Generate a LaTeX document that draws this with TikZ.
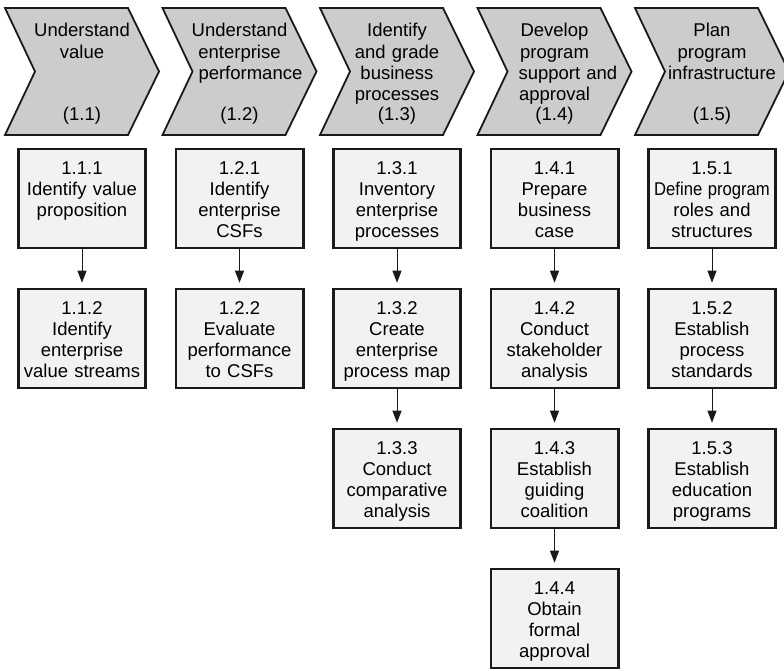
\documentclass[tikz,border=0pt]{standalone}
\usepackage{fontspec}
\setmainfont{Liberation Sans}
\usetikzlibrary{arrows.meta}
\definecolor{chevfill}{HTML}{CCCCCC}
\definecolor{taskfill}{HTML}{F2F2F2}
\definecolor{edge}{HTML}{1A1A1A}
\newcommand\topstrut{\rule{0pt}{14pt}}
% phase chevron: name, left x, title lines, number
\newcommand\phasechev[4]{%
  \draw[phase] (#2,8) -- ++(123,0) -- ++(31,63.5) -- ++(-31,63.5)
    -- ++(-123,0) -- ++(30,-63.5) -- cycle;
  \node[phasetext] (#1) at (#2+77,22.7) {\topstrut#3};
  \node[phasenum] (#1-n) at (#2+77,120.7) {(#4)};
}
% task box: name, centre x, top y, text lines
\newcommand\taskbox[4]{%
  \node[taskbox] (#1) at (#2,#3+49.5) {};
  \node[tasktext] (#1-t) at (#2,#3+11.2) {\topstrut#4};
}
\begin{document}
\begin{tikzpicture}[x=1pt,y=-1pt,
  phase/.style={draw=edge, line width=1.8pt, fill=chevfill, line join=miter},
  phasetext/.style={anchor=north, inner sep=0pt, text width=124pt, align=center,
    font=\fontsize{18.5}{21.2}\selectfont},
  phasenum/.style={anchor=base, inner sep=0pt, font=\fontsize{18.5}{21.2}\selectfont},
  taskbox/.style={draw=edge, line width=2.6pt, fill=taskfill,
    minimum width=127.4pt, minimum height=99pt, inner sep=0pt},
  tasktext/.style={anchor=north, inner sep=0pt, text width=128pt, align=center,
    font=\fontsize{18.5}{21}\selectfont},
  flow/.style={draw=edge, line width=1pt, shorten >=5pt,
    -{Triangle[length=12pt,width=9pt]}}
]
\useasboundingbox (0,0) rectangle (784,670);

% phases
\phasechev{p1}{5}{Understand\\value}{1.1}
\phasechev{p2}{162.5}{Understand\\enterprise\\\makebox[82pt][l]{performance}}{1.2}
\phasechev{p3}{320}{Identify\\and grade\\business\\processes}{1.3}
\phasechev{p4}{477.5}{Develop\\program\\\makebox[72pt][l]{support and}\\approval}{1.4}
\phasechev{p5}{635}{Plan\\program\\\makebox[88pt][l]{infrastructure}}{1.5}

% tasks
\taskbox{t111}{82}{149}{1.1.1\\Identify value\\proposition}
\taskbox{t112}{82}{289}{1.1.2\\Identify\\enterprise\\value streams}

\taskbox{t121}{239.5}{149}{1.2.1\\Identify\\enterprise\\CSFs}
\taskbox{t122}{239.5}{289}{1.2.2\\Evaluate\\performance\\to CSFs}

\taskbox{t131}{397}{149}{1.3.1\\Inventory\\enterprise\\processes}
\taskbox{t132}{397}{289}{1.3.2\\Create\\enterprise\\process map}
\taskbox{t133}{397}{429}{1.3.3\\Conduct\\comparative\\analysis}

\taskbox{t141}{554.5}{149}{1.4.1\\Prepare\\business\\case}
\taskbox{t142}{554.5}{289}{1.4.2\\Conduct\\stakeholder\\analysis}
\taskbox{t143}{554.5}{429}{1.4.3\\Establish\\guiding\\coalition}
\taskbox{t144}{554.5}{569}{1.4.4\\Obtain\\formal\\approval}

\taskbox{t151}{712}{149}{1.5.1\\\scalebox{0.9}[1]{Define program}\\roles and\\structures}
\taskbox{t152}{712}{289}{1.5.2\\Establish\\process\\standards}
\taskbox{t153}{712}{429}{1.5.3\\Establish\\education\\programs}

% task order
\draw[flow] (t111) -- (t112);
\draw[flow] (t121) -- (t122);
\draw[flow] (t131) -- (t132);
\draw[flow] (t132) -- (t133);
\draw[flow] (t141) -- (t142);
\draw[flow] (t142) -- (t143);
\draw[flow] (t143) -- (t144);
\draw[flow] (t151) -- (t152);
\draw[flow] (t152) -- (t153);
\end{tikzpicture}
\end{document}
